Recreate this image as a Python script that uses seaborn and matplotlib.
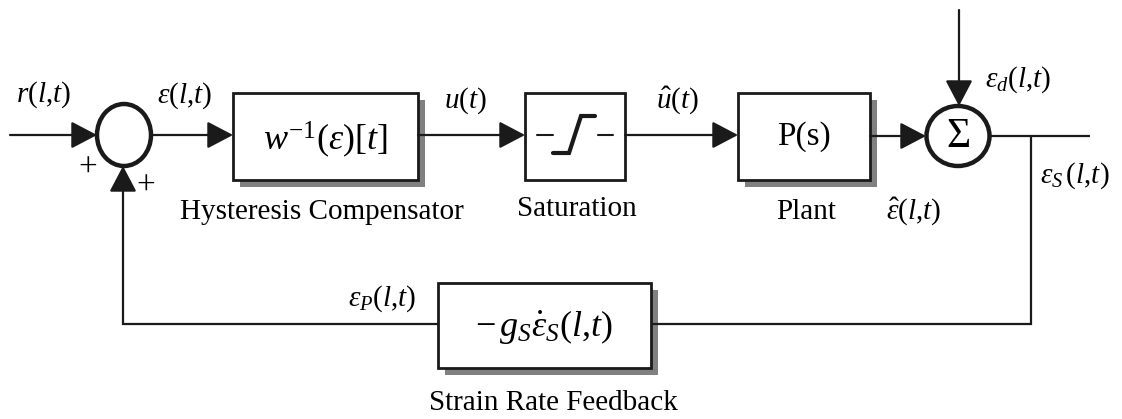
import numpy as np
import matplotlib
matplotlib.use("Agg")
import matplotlib.pyplot as plt
import seaborn as sns
from matplotlib.patches import Rectangle, Ellipse

# ---- diagram content ----
block_names    = ["comp", "sat", "plant", "fb"]
block_text     = [r"$w^{\mathit{-1}}(\varepsilon)[t]$", "", "P(s)", r"$-\,g_S\dot{\varepsilon}_S(l{,}t)$"]
block_captions = ["Hysteresis Compensator", "Saturation", "Plant", "Strain Rate Feedback"]
block_shadow   = [True, False, True, True]
signal_names   = ["r", "eps", "u", "uhat", "epshat", "epsd", "epsS", "epsP"]
signal_text    = [r"$r(l{,}t)$", r"$\varepsilon(l{,}t)$", r"$u(t)$", r"$\hat{u}(t)$",
                  r"$\hat{\varepsilon}(l{,}t)$", r"$\varepsilon_d(l{,}t)$",
                  r"$\varepsilon_S\,(l{,}t)$", r"$\varepsilon_P(l{,}t)$"]
sum_signs      = ["+", "+"]

####figure settings####
sns.set_theme(style="white")
plt.rcParams["font.family"] = ["Liberation Serif", "DejaVu Serif"]
plt.rcParams["text.color"] = "black"
plt.rcParams["mathtext.fontset"] = "custom"
plt.rcParams["mathtext.rm"] = "Liberation Serif"
plt.rcParams["mathtext.it"] = "Liberation Serif:italic"
plt.rcParams["mathtext.bf"] = "Liberation Serif:bold"

# geometry in pixel units (y grows downwards)
boxes = {
    "comp":  (233, 93, 418, 180),
    "sat":   (525, 93, 625, 180),
    "plant": (738, 93, 870, 180),
    "fb":    (438, 283, 651, 368),
}
text_pos = {"comp": (325, 140, 26), "sat": (575, 137, 20), "plant": (804, 137, 24), "fb": (544, 327, 26)}
cap_pos = {"comp": (322, 212), "sat": (577, 209), "plant": (806, 212), "fb": (553, 403)}
sig_pos = {"r": (43, 95), "eps": (185, 96), "u": (465, 101), "uhat": (677, 100),
           "epshat": (914, 211), "epsd": (1018, 80), "epsS": (1075, 176), "epsP": (382, 299)}

fig = plt.figure(figsize=(11.22, 4.19), dpi=100)
ax = fig.add_axes([0, 0, 1, 1])
ax.set_xlim(0, 1122)
ax.set_ylim(419, 0)
ax.set_axis_off()

lw_wire = 1.6
lw_box = 2.0
grey = "#808080"

def arrow(x0, y0, x1, y1):
    ax.annotate("", xy=(x1, y1), xytext=(x0, y0),
                arrowprops=dict(arrowstyle="-|>,head_length=0.8,head_width=0.42",
                                mutation_scale=20, lw=lw_wire, color="k",
                                shrinkA=0, shrinkB=0))

def wire(xs, ys):
    ax.plot(xs, ys, color="k", lw=lw_wire, solid_capstyle="butt", solid_joinstyle="miter")

# blocks
for name, txt, cap, sh in zip(block_names, block_text, block_captions, block_shadow):
    x0, y0, x1, y1 = boxes[name]
    if sh:
        ax.add_patch(Rectangle((x0 + 7, y0 + 7), x1 - x0, y1 - y0, facecolor=grey,
                               edgecolor="none", zorder=1))
    ax.add_patch(Rectangle((x0, y0), x1 - x0, y1 - y0, facecolor="white",
                           edgecolor="k", lw=lw_box, zorder=2))
    tx, ty, fs = text_pos[name]
    if txt:
        ax.text(tx, ty, txt, ha="center", va="center", fontsize=fs, zorder=3)
    cx, cy = cap_pos[name]
    ax.text(cx, cy, cap, ha="center", va="center", fontsize=21)

# saturation icon
ax.plot([537, 553], [135, 135], color="k", lw=1.5, zorder=3)
ax.plot([598, 613], [135, 135], color="k", lw=1.5, zorder=3)
ax.plot([553, 569, 581, 595], [153, 153, 116, 116], color="k", lw=3, zorder=3,
        solid_joinstyle="miter")

# summing junctions
s1 = (124, 135)
s2 = (958, 136)
ax.add_patch(Ellipse(s1, 54, 62, facecolor="white", edgecolor="k", lw=3.2, zorder=3))
ax.add_patch(Ellipse(s2, 63, 60, facecolor="white", edgecolor="k", lw=3.2, zorder=3))
ax.text(s2[0], s2[1] + 1, "\u03a3", ha="center", va="center", fontsize=30, zorder=4)

# forward path
arrow(10, 135, 97, 135)
arrow(151, 135, 233, 135)
arrow(418, 135, 525, 135)
arrow(625, 135, 738, 135)
arrow(870, 136, 926, 136)
arrow(959, 10, 959, 106)
wire([990, 1090], [136, 136])

# feedback path
wire([1031, 1031, 651], [136, 324, 324])
wire([438, 123, 123], [324, 324, 240])
arrow(123, 240, 123, 166)

# signs
ax.text(88, 168, sum_signs[0], ha="center", va="center", fontsize=24)
ax.text(146, 186, sum_signs[1], ha="center", va="center", fontsize=24)

# signal labels
for name, txt in zip(signal_names, signal_text):
    x, y = sig_pos[name]
    ax.text(x, y, txt, ha="center", va="center", fontsize=21)

plt.savefig("out.png", dpi=100)
